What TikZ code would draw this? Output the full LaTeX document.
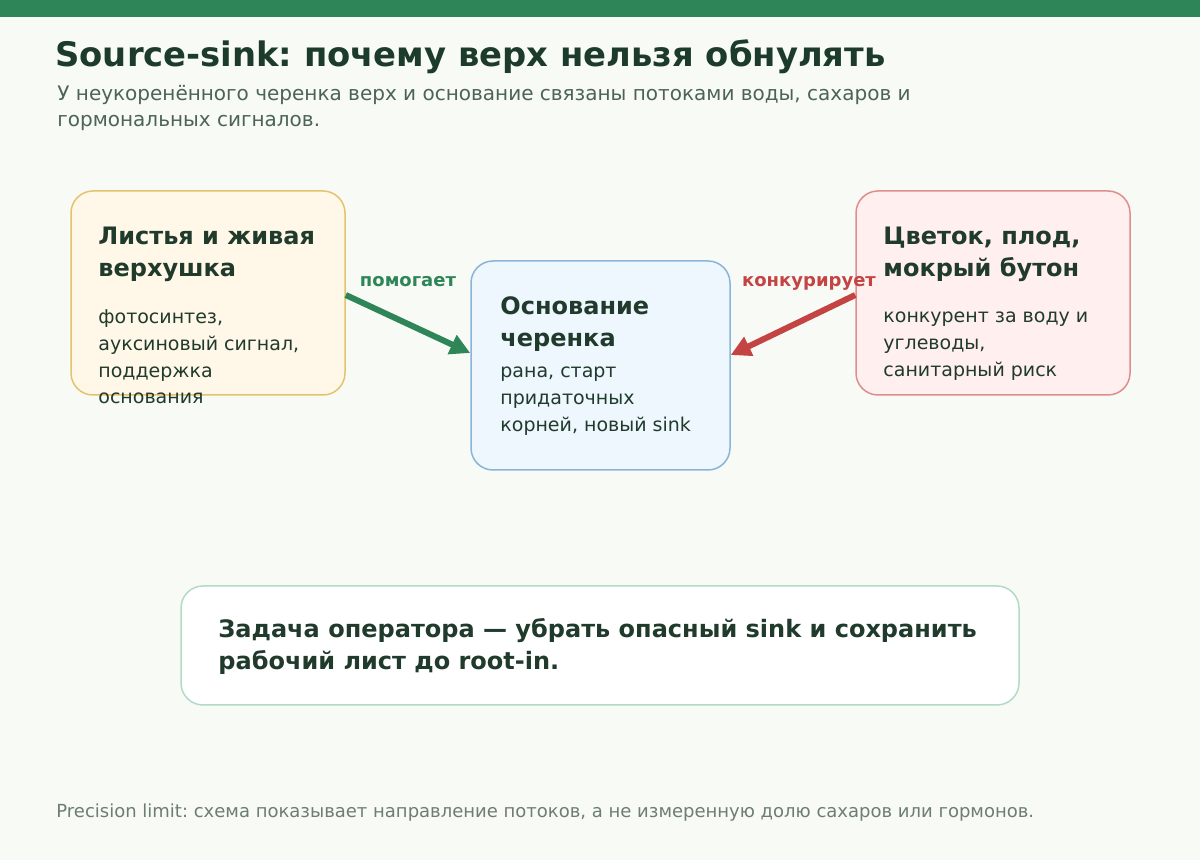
\documentclass[tikz,border=0pt]{standalone}
\usepackage{fontspec}
\setmainfont{DejaVu Sans}
\usetikzlibrary{positioning, calc, arrows.meta}
\frenchspacing

\definecolor{pagebg}{HTML}{F7FAF5}
\definecolor{topbar}{HTML}{2E8558}
\definecolor{titleink}{HTML}{1C3B2A}
\definecolor{subink}{HTML}{4D6357}
\definecolor{bodyink}{HTML}{203A2C}
\definecolor{leaffill}{HTML}{FFF8E8}
\definecolor{leafline}{HTML}{E3C46C}
\definecolor{basefill}{HTML}{EDF7FD}
\definecolor{baseline}{HTML}{8AB4D8}
\definecolor{sinkfill}{HTML}{FFEFEF}
\definecolor{sinkline}{HTML}{DF8D8D}
\definecolor{taskline}{HTML}{B3DBC3}
\definecolor{helpgreen}{HTML}{2E8558}
\definecolor{riskred}{HTML}{C44444}
\definecolor{noteink}{HTML}{6E7D73}

% multi-line nodes sit on the baseline of their last line
\tikzset{
  card/.style={draw, line width=0.75pt, rounded corners=11pt, inner sep=0pt},
  headtext/.style={anchor=base west, align=left, inner sep=0pt, text=bodyink,
    font=\fontsize{12pt}{16pt}\selectfont\bfseries},
  bodytext/.style={anchor=base west, align=left, inner sep=0pt, text=bodyink,
    font=\fontsize{9.5pt}{13.35pt}\selectfont},
  flowlabel/.style={anchor=base, inner sep=0pt, font=\fontsize{9pt}{11pt}\selectfont\bfseries},
  flow/.style={line width=3pt, -{Triangle[length=10pt, width=10pt]}}
}

\begin{document}
\begin{tikzpicture}[x=0.5pt, y=-0.5pt]

  % page and top bar
  \fill[pagebg] (0,0) rectangle (1200,860);
  \useasboundingbox (0,0) rectangle (1200,860);
  \fill[topbar] (0,0) rectangle (1200,17);

  % ==========================================
  % Title
  % ==========================================
  \node[anchor=base west, inner sep=0pt, text=titleink,
        font=\fontsize{16.9pt}{20pt}\selectfont\bfseries] (title) at (55,67)
        {Source-sink: почему верх нельзя обнулять};
  \node[anchor=base west, align=left, inner sep=0pt, text=subink,
        font=\fontsize{10pt}{13pt}\selectfont] (subtitle) at (57,127)
        {У неукоренённого черенка верх и основание связаны потоками воды, сахаров и\\гормональных сигналов.};

  % ==========================================
  % Boxes
  % ==========================================
  \node[card, fill=leaffill, draw=leafline, minimum width=137pt, minimum height=102pt] (leaf) at (208,293) {};
  \node[card, fill=basefill, draw=baseline, minimum width=129.5pt, minimum height=104.5pt] (base) at (600.5,365.5) {};
  \node[card, fill=sinkfill, draw=sinkline, minimum width=137pt, minimum height=102pt] (sink) at (993,293) {};

  % box texts
  \node[headtext] (leafhead) at (98,277) {Листья и живая\\верхушка};
  \node[bodytext] (leafbody) at (98,404) {фотосинтез,\\ауксиновый сигнал,\\поддержка\\основания};

  \node[headtext] (basehead) at (500,347) {Основание\\черенка};
  \node[bodytext] (basebody) at (500,431.4) {рана, старт\\придаточных\\корней, новый sink};

  \node[headtext] (sinkhead) at (883,277) {Цветок, плод,\\мокрый бутон};
  \node[bodytext] (sinkbody) at (883,376.4) {конкурент за воду и\\углеводы,\\санитарный риск};

  % ==========================================
  % Flows
  % ==========================================
  \draw[flow, helpgreen] ($(leaf.east)+(0,2)$) -- ($(base.west)+(0,-12.5)$);
  \draw[flow, riskred] ($(sink.west)+(0,2)$) -- ($(base.east)+(0,-10.5)$);

  \node[flowlabel, text=helpgreen] (helplabel) at (408,287) {помогает};
  \node[flowlabel, text=riskred] (risklabel) at (809,287) {конкурирует};

  % ==========================================
  % Task and note
  % ==========================================
  \node[card, fill=white, draw=taskline, minimum width=419pt, minimum height=59.5pt] (task) at (600,645.5) {};
  \node[headtext, font=\fontsize{12pt}{16.5pt}\selectfont\bfseries] (tasktext) at (218,670)
        {Задача оператора — убрать опасный sink и сохранить\\рабочий лист до root-in.};

  \node[anchor=base west, inner sep=0pt, text=noteink,
        font=\fontsize{9pt}{11pt}\selectfont] (note) at (56,817)
        {Precision limit: схема показывает направление потоков, а не измеренную долю сахаров или гормонов.};

\end{tikzpicture}
\end{document}
